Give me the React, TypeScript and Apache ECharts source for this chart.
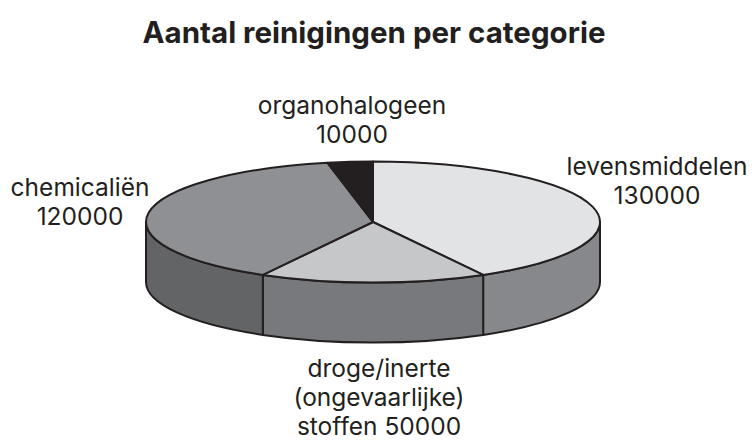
import React, { useEffect, useRef } from "react";
import * as echarts from "echarts";

const categories = ["levensmiddelen", "droge/inerte\n(ongevaarlijke)\nstoffen", "chemicaliën", "organohalogeen"];
const values = [130000, 50000, 120000, 10000];
const labelSep = ["\n", " ", "\n", "\n"];
const topColors = ["#e2e3e5", "#c6c7c9", "#8f9093", "#231f20"];
const sideColors = ["#87888b", "#78797c", "#636466", "#231f20"];
const labelPos = [[657, 180], [379, 397], [80, 201], [352, 119]];
const LINE = 29;

const CX = 373, CY = 222, RX = 227, RY = 60.5, DEPTH = 60;
const total = values.reduce((a, b) => a + b, 0);
const px = (t: number) => CX + RX * Math.sin(t);
const py = (t: number, d = 0) => CY - RY * Math.cos(t) + d;
const arcTo = (t: number, d = 0, sweep = 1, large = 0) =>
  `A ${RX} ${RY} 0 ${large} ${sweep} ${px(t)} ${py(t, d)}`;

function renderItem(params: any, api: any) {
  const i = params.dataIndex;
  const before = values.slice(0, i).reduce((a, b) => a + b, 0);
  const a0 = (before / total) * Math.PI * 2;
  const a1 = ((before + api.value(0)) / total) * Math.PI * 2;
  const stroke = { stroke: "#231f20", lineWidth: 2, lineJoin: "round" };
  const children: any[] = [];
  const s0 = Math.max(a0, Math.PI / 2);
  const s1 = Math.min(a1, (Math.PI * 3) / 2);
  if (s1 > s0) {
    const d = `M ${px(s0)} ${py(s0)} ${arcTo(s1)} L ${px(s1)} ${py(s1, DEPTH)} ${arcTo(s0, DEPTH, 0)} Z`;
    children.push({ type: "path", z2: 1, shape: { pathData: d }, style: { fill: sideColors[i], ...stroke } });
  }
  const large = a1 - a0 > Math.PI ? 1 : 0;
  const top = `M ${CX} ${CY} L ${px(a0)} ${py(a0)} ${arcTo(a1, 0, 1, large)} Z`;
  children.push({ type: "path", z2: 2, shape: { pathData: top }, style: { fill: topColors[i], ...stroke } });
  return { type: "group", children };
}

export default function App() {
  const ref = useRef<HTMLDivElement>(null);
  useEffect(() => {
    document.body.style.margin = "0";
    const chart = echarts.init(ref.current!, undefined, { renderer: "svg" });
    const labelLines = categories.flatMap((c, i) => {
      const lines = (c + labelSep[i] + values[i]).split("\n");
      return lines.map((text, n) => ({
        type: "text",
        x: labelPos[i][0],
        y: labelPos[i][1] + (n - (lines.length - 1) / 2) * LINE,
        style: {
          text, align: "center", verticalAlign: "middle",
          fontFamily: "Inter", fontSize: 24.5, lineHeight: 18, fill: "#231f20",
        },
      }));
    });
    chart.setOption({
      animation: false,
      backgroundColor: "#ffffff",
      title: {
        text: "Aantal reinigingen per categorie",
        left: 369, top: 12, textAlign: "center",
        textStyle: { fontFamily: "Inter", fontSize: 29.5, fontWeight: "bold", color: "#231f20" },
      },
      xAxis: { show: false },
      yAxis: { show: false },
      graphic: labelLines,
      series: [{
        type: "custom", coordinateSystem: "none", renderItem,
        data: values.map((v) => [v]), silent: true,
      }],
    });
    return () => chart.dispose();
  }, []);
  return <div ref={ref} style={{ width: 752, height: 441 }} />;
}
